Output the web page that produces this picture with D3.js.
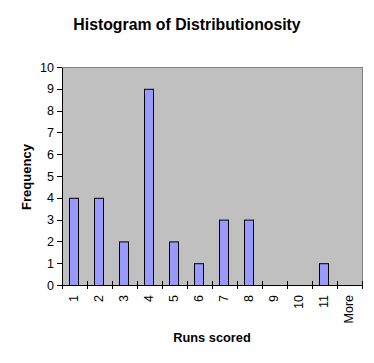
<!DOCTYPE html>
<html lang="en">
<head>
<meta charset="UTF-8">
<title>Histogram of Distributionosity</title>
<script src="https://cdn.jsdelivr.net/npm/d3@7"></script>
<style>
  body { margin: 0; background: #fff; }
  text { font-family: Arial, "Liberation Sans", sans-serif; }
</style>
</head>
<body>
<script>
    // data
    var bins = ['1', '2', '3', '4', '5', '6', '7', '8', '9', '10', '11', 'More']
    var counts = [4, 4, 2, 9, 2, 1, 3, 3, 0, 0, 1, 0]
    var yTicks = [0, 1, 2, 3, 4, 5, 6, 7, 8, 9, 10]

    var width = 374, height = 363
    var plot = {left: 62, right: 362, top: 67, bottom: 285}

    var svg = d3.select('body').append('svg')
        .attr('width', width)
        .attr('height', height)

    var xCat = d3.scaleBand()
        .domain(bins)
        .range([plot.left, plot.right])
    var y = d3.scaleLinear()
        .domain([0, 10])
        .range([plot.bottom, plot.top])

    // plot area
    svg.append('rect')
        .attr('x', plot.left)
        .attr('y', plot.top)
        .attr('width', plot.right - plot.left)
        .attr('height', plot.bottom - plot.top)
        .attr('fill', '#c0c0c0')
        .attr('stroke', '#808080')
        .attr('stroke-width', 1)
        .attr('shape-rendering', 'crispEdges')

    // bars
    svg.selectAll('.bar')
        .data(counts)
        .enter()
        .append('rect')
        .attr('class', 'bar')
        .attr('x', (d, i) => Math.round(xCat(bins[i]) + xCat.bandwidth() / 2 - 6) + 0.5)
        .attr('y', d => y(d) + 0.5)
        .attr('width', 9)
        .attr('height', d => plot.bottom - y(d))
        .attr('fill', '#9999ff')
        .attr('stroke', '#000')
        .attr('stroke-width', 1)
        .style('display', d => d > 0 ? null : 'none')

    // y axis
    var yAxis = svg.append('g')
        .attr('transform', `translate(${plot.left}, 0)`)
        .call(d3.axisLeft(y).tickValues(yTicks).tickSize(5).tickSizeOuter(0).tickPadding(3))
    yAxis.selectAll('line, path').attr('stroke', '#000').attr('shape-rendering', 'crispEdges')
    yAxis.selectAll('text').attr('font-size', 12.5).attr('fill', '#000')

    // x axis, ticks cross the axis at category boundaries
    svg.append('line')
        .attr('x1', plot.left).attr('x2', plot.right)
        .attr('y1', plot.bottom).attr('y2', plot.bottom)
        .attr('stroke', '#000')
        .attr('shape-rendering', 'crispEdges')
    var edges = bins.map(b => xCat(b)).concat([plot.right])
    svg.selectAll('.xtick')
        .data(edges)
        .enter()
        .append('line')
        .attr('class', 'xtick')
        .attr('x1', d => d).attr('x2', d => d)
        .attr('y1', plot.bottom - 4).attr('y2', plot.bottom + 4)
        .attr('stroke', '#000')
        .attr('shape-rendering', 'crispEdges')
    svg.selectAll('.xlabel')
        .data(bins)
        .enter()
        .append('text')
        .attr('class', 'xlabel')
        .attr('transform', d => `translate(${xCat(d) + xCat.bandwidth() / 2 + 3}, 295) rotate(-90)`)
        .attr('text-anchor', 'end')
        .attr('font-size', 12.5)
        .text(d => d)

    // titles
    svg.append('text')
        .attr('x', 187).attr('y', 30)
        .attr('text-anchor', 'middle')
        .attr('font-size', 15.8)
        .attr('font-weight', 'bold')
        .text('Histogram of Distributionosity')
    svg.append('text')
        .attr('x', 212).attr('y', 342)
        .attr('text-anchor', 'middle')
        .attr('font-size', 12.8)
        .attr('font-weight', 'bold')
        .text('Runs scored')
    svg.append('text')
        .attr('transform', 'translate(31, 177) rotate(-90)')
        .attr('text-anchor', 'middle')
        .attr('font-size', 13)
        .attr('font-weight', 'bold')
        .text('Frequency')
</script>
</body>
</html>
